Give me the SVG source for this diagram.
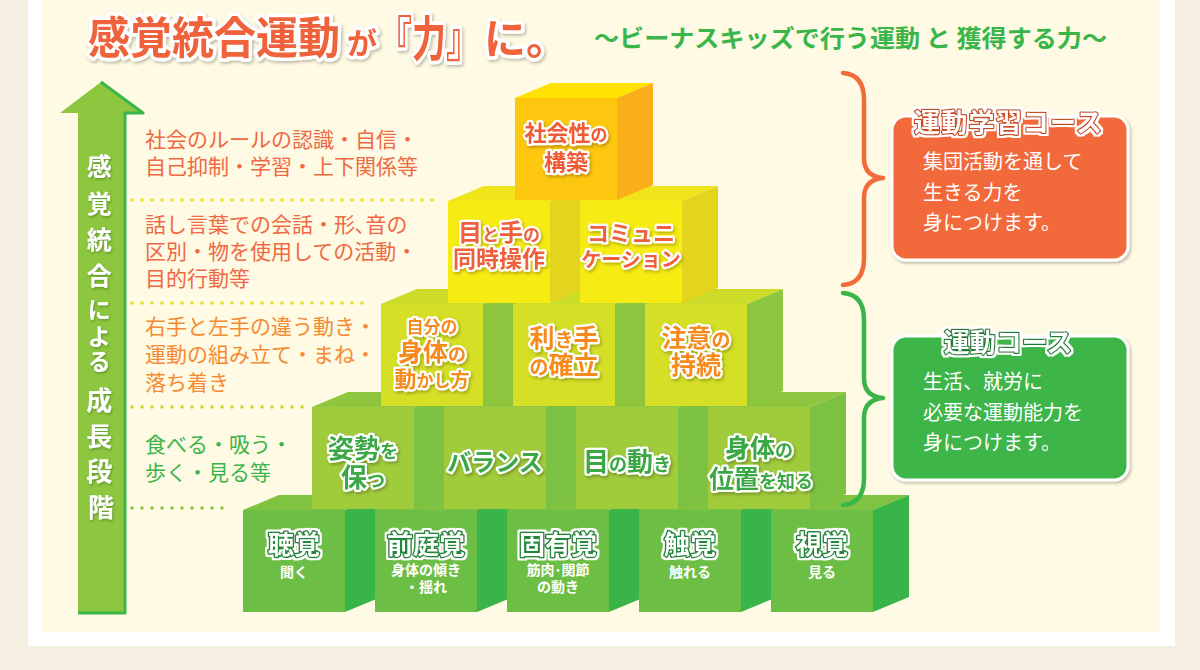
<svg xmlns="http://www.w3.org/2000/svg" width="1200" height="670" viewBox="0 0 1200 670">
<defs>
<style>
text{font-family:"Noto Sans CJK JP","Noto Sans CJK SC",sans-serif;}
.b{font-weight:bold;}
.lt{font-size:21px;}
.o1{fill:#ef6944;}
.o2{fill:#f58a32;}
.g1{fill:#3cb44b;}
.dot{fill:none;stroke-width:3.6;stroke-linecap:round;stroke-dasharray:0 10;}
.ttl{fill:#f0623a;font-weight:bold;stroke:#fff;stroke-width:7;stroke-linejoin:round;paint-order:stroke;}
.ct{font-weight:bold;text-anchor:middle;stroke:#fff;stroke-width:4.5;stroke-linejoin:round;paint-order:stroke;}
.c5{fill:#f05a35;}
.c4{fill:#f0603e;}
.c3{fill:#f68b1f;}
.c2{fill:#3aa845;}
.big{font-weight:bold;text-anchor:middle;fill:#fff;stroke:#22863a;stroke-width:3;stroke-linejoin:round;paint-order:stroke;font-size:26px;}
.sm{text-anchor:middle;fill:#fff;font-size:14px;font-weight:bold;}
.r1f{fill:#6dbe45;} .r1s{fill:#38b449;} .r1t{fill:#80c241;}
.r2f{fill:#a0cb3b;} .r2s{fill:#7cc142;} .r2t{fill:#8fc63f;}
.r3f{fill:#d5df26;} .r3s{fill:#8dc63f;} .r3t{fill:#cddc29;}
.r4f{fill:#f7eb14;} .r4s{fill:#e3d51e;} .r4t{fill:#efe51a;}
.r5f{fill:#fec70f;} .r5s{fill:#faae18;} .r5t{fill:#ffe200;}
.brace{fill:none;stroke-width:4.5;stroke-linecap:round;stroke-linejoin:round;}
.boxtt{font-weight:bold;font-size:26px;text-anchor:middle;fill:#fff;stroke-width:2.5;stroke-linejoin:round;paint-order:stroke;}
.body{font-size:20px;fill:#fff;}
.at{fill:#fff;font-weight:bold;text-anchor:middle;}
</style>
<filter id="sh" x="-10%" y="-10%" width="130%" height="140%"><feDropShadow dx="1.5" dy="2" stdDeviation="1.5" flood-color="#000" flood-opacity="0.25"/></filter>
<filter id="tsh" x="-20%" y="-10%" width="150%" height="130%"><feDropShadow dx="1" dy="1.5" stdDeviation="0.8" flood-color="#3f7a1c" flood-opacity="0.6"/></filter>
<filter id="halo" x="-10%" y="-30%" width="120%" height="160%">
<feMorphology in="SourceAlpha" operator="dilate" radius="2.2" result="d"/>
<feFlood flood-color="#fff"/>
<feComposite in2="d" operator="in" result="w"/>
<feMerge><feMergeNode in="w"/><feMergeNode in="SourceGraphic"/></feMerge>
</filter>
</defs>

<rect x="0" y="0" width="1200" height="670" fill="#f5efe2"/>
<rect x="28" y="-10" width="1147" height="656" fill="#ffffff"/>
<rect x="42" y="-10" width="1118" height="642" fill="#fefae3"/>

<g id="title" filter="url(#sh)">
<text class="ttl" x="88" y="54" font-size="44" textLength="252" lengthAdjust="spacingAndGlyphs">感覚統合運動</text>
<text class="ttl" x="347" y="54" font-size="30">が</text>
<text class="ttl" x="378" y="56" font-size="48" textLength="102" lengthAdjust="spacingAndGlyphs">『力』</text>
<text class="ttl" x="484" y="54" font-size="42">に。</text>
</g>
<text id="subtitle" class="b" x="594" y="47" font-size="24" fill="#39b54a" textLength="513" lengthAdjust="spacingAndGlyphs">〜ビーナスキッズで行う運動 と 獲得する力〜</text>

<g id="arrow">
<polygon points="101,82 143,113 125,113 125,613 78,613 78,113 60,113" fill="#8dc63f"/>
<polyline points="101,82 143,113 125,113 125,613 78,613" fill="none" stroke="#3ab54a" stroke-width="3" stroke-linejoin="round"/>
<text class="at" filter="url(#tsh)">
<tspan x="101" y="176" font-size="25">感</tspan>
<tspan x="101" y="213" font-size="25">覚</tspan>
<tspan x="101" y="249" font-size="25">統</tspan>
<tspan x="101" y="285" font-size="25">合</tspan>
<tspan x="101" y="318" font-size="23">に</tspan>
<tspan x="101" y="345" font-size="23">よ</tspan>
<tspan x="101" y="370" font-size="23">る</tspan>
<tspan x="101" y="410" font-size="26">成</tspan>
<tspan x="101" y="446" font-size="26">長</tspan>
<tspan x="101" y="481" font-size="26">段</tspan>
<tspan x="101" y="517" font-size="26">階</tspan>
</text>
</g>

<g id="stage-texts">
<text class="lt o1" x="145" y="147">社会のルールの認識・自信・</text>
<text class="lt o1" x="145" y="174">自己抑制・学習・上下関係等</text>
<text class="lt o1" x="145" y="232">話し言葉での会話・形､音の</text>
<text class="lt o1" x="145" y="259">区別・物を使用しての活動・</text>
<text class="lt o1" x="145" y="286">目的行動等</text>
<text class="lt o2" x="145" y="334">右手と左手の違う動き・</text>
<text class="lt o2" x="145" y="362">運動の組み立て・まね・</text>
<text class="lt o2" x="145" y="390">落ち着き</text>
<text class="lt g1" x="145" y="452">食べる・吸う・</text>
<text class="lt g1" x="145" y="480">歩く・見る等</text>
</g>

<g id="dividers">
<line class="dot" x1="132" y1="200" x2="433" y2="200" stroke="#f0e21a"/>
<line class="dot" x1="132" y1="303" x2="370" y2="303" stroke="#e9df1e"/>
<line class="dot" x1="132" y1="407" x2="303" y2="407" stroke="#c3d82f"/>
<line class="dot" x1="132" y1="508" x2="230" y2="508" stroke="#8cc63f"/>
</g>

<!-- Row 1 -->
<g id="cube-chokaku">
<polygon class="r1t" points="243,510 279,495 381,495 345,510"/>
<polygon class="r1s" points="345,510 381,495 381,597 345,612"/>
<rect class="r1f" x="243" y="510" width="102" height="102"/>
<text class="big" x="294" y="554" filter="url(#halo)">聴覚</text>
<text class="sm" x="294" y="577">聞く</text>
</g>
<g id="cube-zenteikaku">
<polygon class="r1t" points="375,510 411,495 513,495 477,510"/>
<polygon class="r1s" points="477,510 513,495 513,597 477,612"/>
<rect class="r1f" x="375" y="510" width="102" height="102"/>
<text class="big" x="426" y="554" filter="url(#halo)">前庭覚</text>
<text class="sm" x="426" y="575">身体の傾き</text>
<text class="sm" x="426" y="592">・揺れ</text>
</g>
<g id="cube-koyukaku">
<polygon class="r1t" points="507,510 543,495 645,495 609,510"/>
<polygon class="r1s" points="609,510 645,495 645,597 609,612"/>
<rect class="r1f" x="507" y="510" width="102" height="102"/>
<text class="big" x="558" y="554" filter="url(#halo)">固有覚</text>
<text class="sm" x="558" y="575">筋肉･関節</text>
<text class="sm" x="558" y="592">の動き</text>
</g>
<g id="cube-shokkaku">
<polygon class="r1t" points="639,510 675,495 777,495 741,510"/>
<polygon class="r1s" points="741,510 777,495 777,597 741,612"/>
<rect class="r1f" x="639" y="510" width="102" height="102"/>
<text class="big" x="690" y="554" filter="url(#halo)">触覚</text>
<text class="sm" x="690" y="577">触れる</text>
</g>
<g id="cube-shikaku">
<polygon class="r1t" points="771,510 807,495 909,495 873,510"/>
<polygon class="r1s" points="873,510 909,495 909,597 873,612"/>
<rect class="r1f" x="771" y="510" width="102" height="102"/>
<text class="big" x="822" y="554" filter="url(#halo)">視覚</text>
<text class="sm" x="822" y="577">見る</text>
</g>

<!-- Row 2 -->
<g id="cube-shisei">
<polygon class="r2t" points="312,407 348,392 450,392 414,407"/>
<polygon class="r2s" points="414,407 450,392 450,494 414,509"/>
<rect class="r2f" x="312" y="407" width="102" height="102"/>
<text class="ct c2" x="363" y="458" filter="url(#sh)"><tspan font-size="26">姿勢</tspan><tspan font-size="18">を</tspan></text>
<text class="ct c2" x="363" y="487" filter="url(#sh)"><tspan font-size="26">保</tspan><tspan font-size="18">つ</tspan></text>
</g>
<g id="cube-balance">
<polygon class="r2t" points="444,407 480,392 582,392 546,407"/>
<polygon class="r2s" points="546,407 582,392 582,494 546,509"/>
<rect class="r2f" x="444" y="407" width="102" height="102"/>
<text class="ct c2" x="495" y="471" font-size="24" filter="url(#sh)">バランス</text>
</g>
<g id="cube-menougoki">
<polygon class="r2t" points="576,407 612,392 714,392 678,407"/>
<polygon class="r2s" points="678,407 714,392 714,494 678,509"/>
<rect class="r2f" x="576" y="407" width="102" height="102"/>
<text class="ct c2" x="627" y="471" filter="url(#sh)"><tspan font-size="26">目</tspan><tspan font-size="18">の</tspan><tspan font-size="26">動</tspan><tspan font-size="18">き</tspan></text>
</g>
<g id="cube-ichi">
<polygon class="r2t" points="708,407 744,392 846,392 810,407"/>
<polygon class="r2s" points="810,407 846,392 846,494 810,509"/>
<rect class="r2f" x="708" y="407" width="102" height="102"/>
<text class="ct c2" x="759" y="457" filter="url(#sh)"><tspan font-size="25">身体</tspan><tspan font-size="18">の</tspan></text>
<text class="ct c2" x="761" y="488" filter="url(#sh)"><tspan font-size="25">位置</tspan><tspan font-size="18">を知る</tspan></text>
</g>

<!-- Row 3 -->
<g id="cube-jibun">
<polygon class="r3t" points="381,304 417,289 519,289 483,304"/>
<polygon class="r3s" points="483,304 519,289 519,391 483,406"/>
<rect class="r3f" x="381" y="304" width="102" height="102"/>
<text class="ct c3" x="432" y="333" font-size="17" filter="url(#sh)">自分の</text>
<text class="ct c3" x="432" y="361" filter="url(#sh)"><tspan font-size="25">身体</tspan><tspan font-size="18">の</tspan></text>
<text class="ct c3" x="432" y="387" filter="url(#sh)"><tspan font-size="22">動</tspan><tspan font-size="17">かし</tspan><tspan font-size="19">方</tspan></text>
</g>
<g id="cube-kikite">
<polygon class="r3t" points="513,304 549,289 651,289 615,304"/>
<polygon class="r3s" points="615,304 651,289 651,391 615,406"/>
<rect class="r3f" x="513" y="304" width="102" height="102"/>
<text class="ct c3" x="564" y="347" filter="url(#sh)"><tspan font-size="25">利</tspan><tspan font-size="19">き</tspan><tspan font-size="25">手</tspan></text>
<text class="ct c3" x="564" y="374" filter="url(#sh)"><tspan font-size="19">の</tspan><tspan font-size="25">確立</tspan></text>
</g>
<g id="cube-chui">
<polygon class="r3t" points="645,304 681,289 783,289 747,304"/>
<polygon class="r3s" points="747,304 783,289 783,391 747,406"/>
<rect class="r3f" x="645" y="304" width="102" height="102"/>
<text class="ct c3" x="696" y="347" filter="url(#sh)"><tspan font-size="25">注意</tspan><tspan font-size="19">の</tspan></text>
<text class="ct c3" x="696" y="374" font-size="25" filter="url(#sh)">持続</text>
</g>

<!-- Row 4 -->
<g id="cube-metote">
<polygon class="r4t" points="448,201 484,186 586,186 550,201"/>
<polygon class="r4s" points="550,201 586,186 586,288 550,303"/>
<rect class="r4f" x="448" y="201" width="102" height="102"/>
<text class="ct c4" x="499" y="241" filter="url(#sh)"><tspan font-size="24">目</tspan><tspan font-size="17">と</tspan><tspan font-size="24">手</tspan><tspan font-size="17">の</tspan></text>
<text class="ct c4" x="499" y="267" font-size="23" filter="url(#sh)">同時操作</text>
</g>
<g id="cube-communication">
<polygon class="r4t" points="580,201 616,186 718,186 682,201"/>
<polygon class="r4s" points="682,201 718,186 718,288 682,303"/>
<rect class="r4f" x="580" y="201" width="102" height="102"/>
<text class="ct c4" x="631" y="241" font-size="22" filter="url(#sh)">コミュニ</text>
<text class="ct c4" x="631" y="267" font-size="20" filter="url(#sh)">ケーション</text>
</g>

<!-- Row 5 -->
<g id="cube-shakaisei">
<polygon class="r5t" points="515,98 551,83 653,83 617,98"/>
<polygon class="r5s" points="617,98 653,83 653,185 617,200"/>
<rect class="r5f" x="515" y="98" width="102" height="102"/>
<text class="ct c5" x="566" y="141" filter="url(#sh)"><tspan font-size="22">社会性</tspan><tspan font-size="17">の</tspan></text>
<text class="ct c5" x="566" y="170" font-size="22" filter="url(#sh)">構築</text>
</g>

<g id="connectors">
<path class="brace" stroke="#f26b3a" d="M843,73 C858,74 864,84 864,100 L864,158 C864,171 871,177 883,178 C871,179 864,185 864,198 L864,258 C864,274 858,284 843,285"/>
<path class="brace" stroke="#3ab54a" d="M843,293 C858,294 864,304 864,320 L864,378 C864,391 871,397 883,398 C871,399 864,405 864,418 L864,478 C864,494 858,504 843,505"/>
</g>

<g id="course-gakushu">
<rect x="892" y="116" width="236" height="144" rx="14" fill="#f26b3a" stroke="#fff" stroke-width="3" filter="url(#sh)"/>
<text class="boxtt" x="1008" y="132" stroke="#c94b24" textLength="188" filter="url(#halo)">運動学習コース</text>
<text class="body" x="923" y="169">集団活動を通して</text>
<text class="body" x="923" y="200">生きる力を</text>
<text class="body" x="923" y="230">身につけます。</text>
</g>

<g id="course-undo">
<rect x="892" y="336" width="236" height="144" rx="14" fill="#3db54a" stroke="#fff" stroke-width="3" filter="url(#sh)"/>
<text class="boxtt" x="1008" y="352" stroke="#1f7a33" filter="url(#halo)">運動コース</text>
<text class="body" x="923" y="389">生活、就労に</text>
<text class="body" x="923" y="420">必要な運動能力を</text>
<text class="body" x="923" y="450">身につけます。</text>
</g>
</svg>
